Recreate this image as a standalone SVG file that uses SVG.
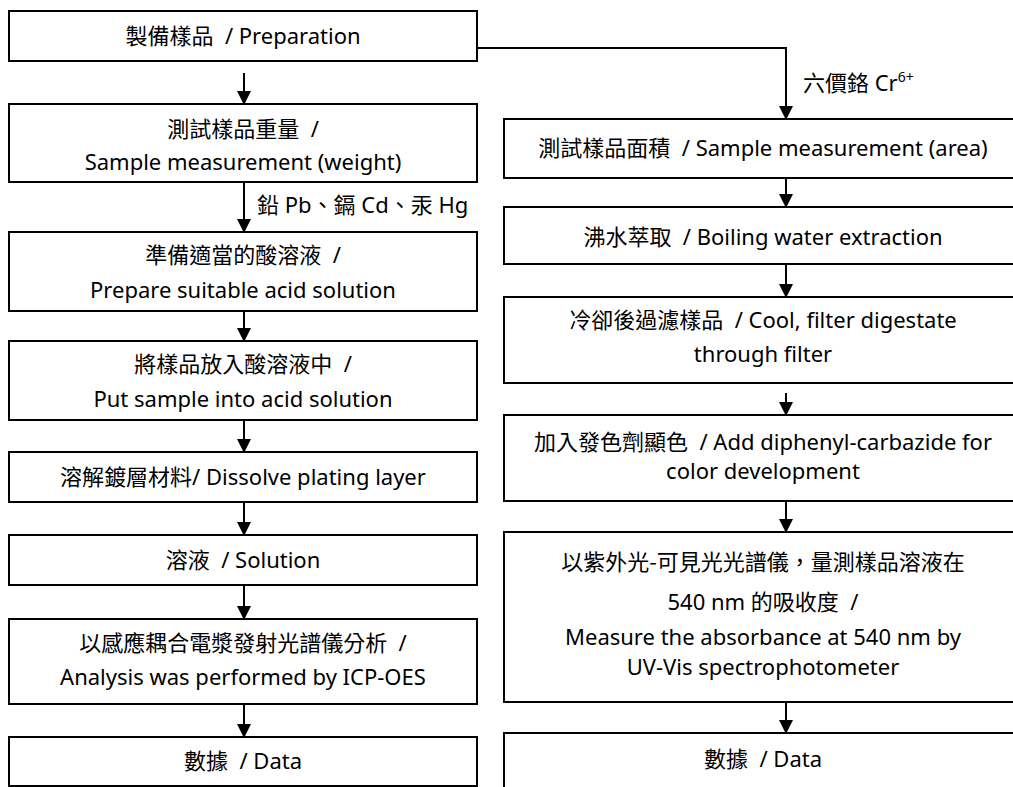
<svg xmlns="http://www.w3.org/2000/svg" width="1013" height="787" viewBox="0 0 1013 787" lang="zh-Hant-TW">
<defs>
<style>
.box{fill:#fff;stroke:#000;stroke-width:2}
.t{font-family:"Noto Sans","Noto Sans CJK TC",sans-serif;font-size:22px;fill:#000;text-anchor:middle;white-space:pre}
.lbl{font-family:"Noto Sans","Noto Sans CJK TC",sans-serif;font-size:22px;fill:#000;text-anchor:start;white-space:pre}
.cjk{font-family:"Noto Sans CJK TC",sans-serif}
.c{stroke:#000;stroke-width:2;fill:none}
.a{stroke:#000;stroke-width:2;fill:none;marker-end:url(#ah)}
</style>
<marker id="ah" viewBox="0 0 14 14" refX="13" refY="7" markerWidth="14" markerHeight="14" markerUnits="userSpaceOnUse" orient="auto">
<path d="M0,0 L14,7 L0,14 Z" fill="#000"/>
</marker>
</defs>
<rect x="0" y="0" width="1013" height="787" fill="#fff"/>
<g id="connectors">
<path class="a" d="M244,73 V104"/>
<path class="a" d="M244,183 V232"/>
<path class="a" d="M244,312 V341"/>
<path class="a" d="M244,421 V452"/>
<path class="a" d="M244,503 V535"/>
<path class="a" d="M244,586 V619"/>
<path class="a" d="M244,705 V737"/>
<path class="a" d="M477,48 H786 V119"/>
<path class="a" d="M786,179 V207"/>
<path class="a" d="M786,265 V297"/>
<path class="a" d="M786,393 V415"/>
<path class="a" d="M786,502 V532"/>
<path class="a" d="M786,703 V733"/>
<text class="lbl" x="257" y="213">鉛 Pb、鎘 Cd、汞 Hg</text>
<text class="lbl" x="803" y="91">六價鉻 Cr<tspan font-size="14" dy="-9">6+</tspan></text>
</g>
<g id="n1"><rect class="box" x="9" y="11" width="468" height="50"/><text class="t" x="243" y="44">製備樣品  / Preparation</text></g>
<g id="n2"><rect class="box" x="9" y="104" width="468" height="78"/><text class="t" x="243" y="137">測試樣品重量  /</text><text class="t" x="243" y="170">Sample measurement (weight)</text></g>
<g id="n3"><rect class="box" x="9" y="232" width="468" height="79"/><text class="t" x="243" y="263">準備適當的酸溶液  /</text><text class="t" x="243" y="298">Prepare suitable acid solution</text></g>
<g id="n4"><rect class="box" x="9" y="341" width="468" height="79"/><text class="t" x="243" y="372">將樣品放入酸溶液中  /</text><text class="t" x="243" y="407">Put sample into acid solution</text></g>
<g id="n5"><rect class="box" x="9" y="452" width="468" height="50"/><text class="t" x="243" y="485">溶解鍍層材料/ Dissolve plating layer</text></g>
<g id="n6"><rect class="box" x="9" y="535" width="468" height="50"/><text class="t" x="243" y="568">溶液  / Solution</text></g>
<g id="n7"><rect class="box" x="9" y="619" width="468" height="85"/><text class="t" x="243" y="651">以感應耦合電漿發射光譜儀分析  /</text><text class="t" x="243" y="685">Analysis was performed by ICP-OES</text></g>
<g id="n8"><rect class="box" x="9" y="737" width="468" height="49"/><text class="t" x="243" y="769">數據  / Data</text></g>
<g id="r1"><rect class="box" x="504" y="119" width="516" height="59"/><text class="t" x="763" y="156">測試樣品面積  / Sample measurement (area)</text></g>
<g id="r2"><rect class="box" x="504" y="207" width="516" height="57"/><text class="t" x="763" y="245">沸水萃取  / Boiling water extraction</text></g>
<g id="r3"><rect class="box" x="504" y="297" width="516" height="86"/><text class="t" x="763" y="328">冷卻後過濾樣品  / Cool, filter digestate</text><text class="t" x="763" y="362">through filter</text></g>
<g id="r4"><rect class="box" x="504" y="415" width="516" height="86"/><text class="t" x="763" y="450">加入發色劑顯色  / Add diphenyl-carbazide for</text><text class="t" x="763" y="479">color development</text></g>
<g id="r5"><rect class="box" x="504" y="532" width="516" height="170"/><text class="t cjk" x="763" y="570">以紫外光-可見光光譜儀，量測樣品溶液在</text><text class="t" x="763" y="610">540 nm 的吸收度  /</text><text class="t" x="763" y="645">Measure the absorbance at 540 nm by</text><text class="t" x="763" y="675">UV-Vis spectrophotometer</text></g>
<g id="r6"><rect class="box" x="504" y="733" width="516" height="70"/><text class="t" x="763" y="767">數據  / Data</text></g>
</svg>
